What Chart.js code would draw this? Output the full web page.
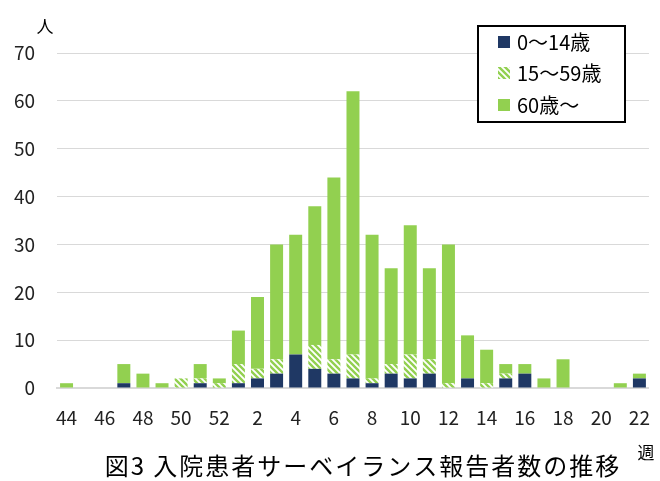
<!DOCTYPE html>
<html>
<head>
<meta charset="utf-8">
<script src="https://cdn.jsdelivr.net/npm/chart.js@4"></script>
<style>
  html, body { margin: 0; padding: 0; background: #fff; }
  #wrap { width: 660px; height: 481px; }
</style>
</head>
<body>
<div id="wrap"><canvas id="chart" width="660" height="481"></canvas></div>
<script>
// weeks 44..52, then 1..22
const weeks = ["44","45","46","47","48","49","50","51","52",
  "1","2","3","4","5","6","7","8","9","10","11","12","13","14","15","16","17","18","19","20","21","22"];
const age0to14 = [0,0,0,1,0,0,0,1,0, 1,2,3,7,4,3,2,1,3,2,3,0,2,0,2,3,0,0,0,0,0,2];
const age15to59 = [0,0,0,0,0,0,2,1,1, 4,2,3,0,5,3,5,1,2,5,3,1,0,1,1,0,0,0,0,0,0,0];
const age60up = [1,0,0,4,3,1,0,3,1, 7,15,24,25,29,38,55,30,20,27,19,29,9,7,2,2,2,6,0,0,1,1];
const seriesNames = ["0～14歳", "15～59歳", "60歳～"];
const yTicks = [0, 10, 20, 30, 40, 50, 60, 70];

const NAVY = "#1f3864";
const GREEN = "#92d050";
const FONT = "'Noto Sans CJK JP', 'Noto Sans', sans-serif";

function stripePattern() {
  const c = document.createElement("canvas");
  c.width = 6; c.height = 6;
  const g = c.getContext("2d");
  g.fillStyle = "#fff";
  g.fillRect(0, 0, 6, 6);
  g.strokeStyle = GREEN;
  g.lineWidth = 2.4;
  g.beginPath();
  g.moveTo(-3, -3); g.lineTo(9, 9);
  g.moveTo(-3, 3); g.lineTo(3, 9);
  g.moveTo(3, -3); g.lineTo(9, 3);
  g.stroke();
  return g.createPattern(c, "repeat");
}
const stripes = stripePattern();

// legend box, axis unit labels and caption
const extras = {
  id: "extras",
  afterDraw(chart) {
    const ctx = chart.ctx;
    ctx.save();
    ctx.fillStyle = "#000";
    ctx.font = "17px " + FONT;
    ctx.textAlign = "center";
    ctx.textBaseline = "middle";
    ctx.fillText("人", 45, 27);
    ctx.fillText("週", 646, 453);

    ctx.font = "24px " + FONT;
    ctx.letterSpacing = "2px";
    ctx.fillText("図3 入院患者サーベイランス報告者数の推移", 363, 466);
    ctx.letterSpacing = "0px";

    // legend
    ctx.fillStyle = "#fff";
    ctx.fillRect(478, 26, 147, 96);
    ctx.strokeStyle = "#000";
    ctx.lineWidth = 2;
    ctx.strokeRect(478, 26, 147, 96);
    const fills = [NAVY, stripes, GREEN];
    const rows = [42, 73, 105];
    ctx.font = "20px " + FONT;
    ctx.textAlign = "left";
    for (let i = 0; i < 3; i++) {
      ctx.fillStyle = fills[i];
      ctx.fillRect(498, rows[i] - 6, 12, 12);
      ctx.fillStyle = "#000";
      ctx.fillText(seriesNames[i], 517, rows[i]);
    }
    ctx.restore();
  }
};

const ctx = document.getElementById("chart").getContext("2d");
new Chart(ctx, {
  type: "bar",
  data: {
    labels: weeks,
    datasets: [
      { label: seriesNames[0], data: age0to14, backgroundColor: NAVY },
      { label: seriesNames[1], data: age15to59, backgroundColor: stripes },
      { label: seriesNames[2], data: age60up, backgroundColor: GREEN },
    ],
  },
  options: {
    responsive: false,
    animation: false,
    layout: { padding: { top: 53, right: 3, left: 0, bottom: 45 } },
    datasets: { bar: { categoryPercentage: 1, barPercentage: 0.68, borderWidth: 0 } },
    plugins: {
      legend: { display: false },
      tooltip: { enabled: false },
    },
    scales: {
      x: {
        stacked: true,
        grid: { display: false },
        border: { color: "#d9d9d9", width: 2 },
        ticks: {
          autoSkip: false,
          maxRotation: 0,
          padding: 10,
          color: "#222",
          font: { family: FONT, size: 19 },
          callback: (v, i) => (i % 2 === 0 ? weeks[i] : ""),
        },
        afterFit: (s) => { s.height = 48; },
      },
      y: {
        stacked: true,
        min: 0,
        max: 70,
        afterBuildTicks: (s) => { s.ticks = yTicks.map((v) => ({ value: v })); },
        border: { display: false },
        grid: { color: "#d9d9d9", lineWidth: 1, drawTicks: false },
        ticks: {
          padding: 22,
          color: "#222",
          font: { family: FONT, size: 19 },
        },
        afterFit: (s) => { s.width = 57; },
      },
    },
  },
  plugins: [extras],
});
</script>
</body>
</html>
